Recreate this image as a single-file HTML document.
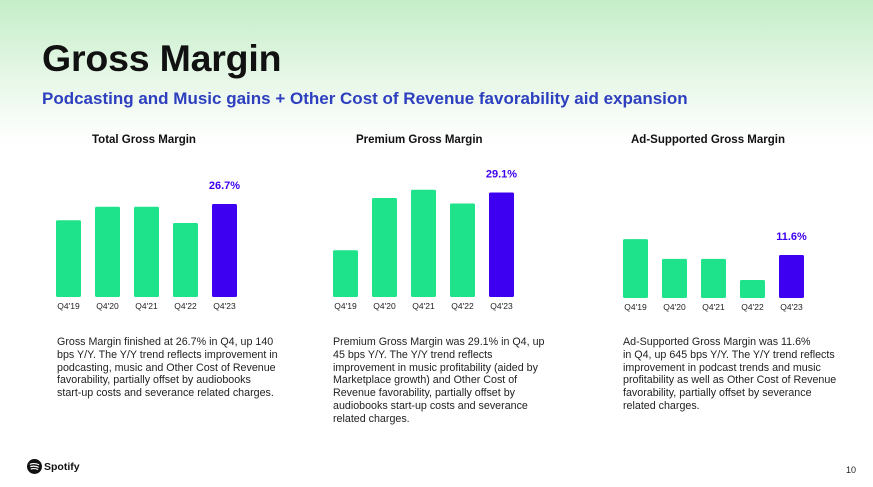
<!DOCTYPE html>
<html><head><meta charset="utf-8"><style>
body{margin:0;width:873px;height:487px;overflow:hidden;font-family:"Liberation Sans",Arial,sans-serif;position:relative;background:linear-gradient(180deg,#c4eec8 0px,#e3f6e4 70px,#fbfdfb 130px,#fff 150px);}
.t{position:absolute;margin:0}
h1{position:absolute;left:42px;top:37px;margin:0;font-size:37.5px;font-weight:bold;color:#111;letter-spacing:-0.2px}
.sub{left:42px;top:89px;font-size:17px;font-weight:bold;color:#2d3fbf}
.ct{font-size:11.5px;font-weight:bold;color:#111;top:134px}
.p{font-size:10.7px;line-height:12.8px;color:#222;top:336px;white-space:nowrap}
</style></head><body>
<h1>Gross Margin</h1>
<div class="t sub">Podcasting and Music gains + Other Cost of Revenue favorability aid expansion</div>
<div class="t ct" style="left:92px">Total Gross Margin</div>
<div class="t ct" style="left:356px">Premium Gross Margin</div>
<div class="t ct" style="left:631px">Ad-Supported Gross Margin</div>
<svg id="ch" width="873" height="487" style="position:absolute;left:0;top:0"></svg>
<div class="t p" style="left:57px">Gross Margin finished at 26.7% in Q4, up 140<br>bps Y/Y. The Y/Y trend reflects improvement in<br>podcasting, music and Other Cost of Revenue<br>favorability, partially offset by audiobooks<br>start-up costs and severance related charges.</div>
<div class="t p" style="left:333px">Premium Gross Margin was 29.1% in Q4, up<br>45 bps Y/Y. The Y/Y trend reflects<br>improvement in music profitability (aided by<br>Marketplace growth) and Other Cost of<br>Revenue favorability, partially offset by<br>audiobooks start-up costs and severance<br>related charges.</div>
<div class="t p" style="left:623px">Ad-Supported Gross Margin was 11.6%<br>in Q4, up 645 bps Y/Y. The Y/Y trend reflects<br>improvement in podcast trends and music<br>profitability as well as Other Cost of Revenue<br>favorability, partially offset by severance<br>related charges.</div>
<div class="t" style="left:27px;top:459px;display:flex;align-items:center">
<svg width="15" height="15" viewBox="0 0 16 16"><circle cx="8" cy="8" r="8" fill="#111"/><path d="M3.5 5.5Q8 4 12.5 6M4 8Q8 7 12 8.7M4.5 10.5Q8 9.7 11.3 11" stroke="#fff" stroke-width="1.3" fill="none" stroke-linecap="round"/></svg>
<span style="font-weight:bold;font-size:10.5px;margin-left:2px;color:#111">Spotify</span></div>
<div class="t" style="left:846px;top:465px;font-size:9px;color:#222">10</div>
<script>
const categories=["Q4'19","Q4'20","Q4'21","Q4'22","Q4'23"];
const totalValues=[25.5,26.5,26.5,25.3,26.7];
const premiumValues=[27.0,28.9,29.2,28.7,29.1];
const adValues=[15.7,10.6,10.6,5.15,11.6];
const highlightLabels=["26.7%","29.1%","11.6%"];
const svg=document.getElementById('ch');
const NS='http://www.w3.org/2000/svg';
function chart(vals,x0,base,v0,k,label,key){
  vals.forEach((v,i)=>{
    const x=x0+i*39,h=(v-v0)*k,y=base-h;
    const r=document.createElementNS(NS,'rect');
    r.setAttribute('x',x);r.setAttribute('y',y);r.setAttribute('width',25);r.setAttribute('height',h);r.setAttribute('rx',1.5);
    r.setAttribute('fill',i===vals.length-1?'#3d00f0':'#1ee38b');
    
    
    svg.appendChild(r);
    const t=document.createElementNS(NS,'text');
    t.setAttribute('x',x+12.5);t.setAttribute('y',base+12);t.setAttribute('text-anchor','middle');t.setAttribute('font-size','8.5');t.setAttribute('fill','#222');
    t.textContent=categories[i];
    
    
    svg.appendChild(t);
    if(i===vals.length-1){
      const l=document.createElementNS(NS,'text');
      l.setAttribute('x',x+12.5);l.setAttribute('y',y-15);l.setAttribute('text-anchor','middle');l.setAttribute('font-size','11');l.setAttribute('font-weight','bold');l.setAttribute('fill','#3d00f0');
      l.textContent=label;
      
      
      svg.appendChild(l);
    }
  });
}
chart(totalValues,56,297,19.86,13.6,highlightLabels[0],'total');
chart(premiumValues,333,297,25.3,27.5,highlightLabels[1],'premium');
chart(adValues,623,298,0.52,3.88,highlightLabels[2],'ad');
</script>
</body></html>
